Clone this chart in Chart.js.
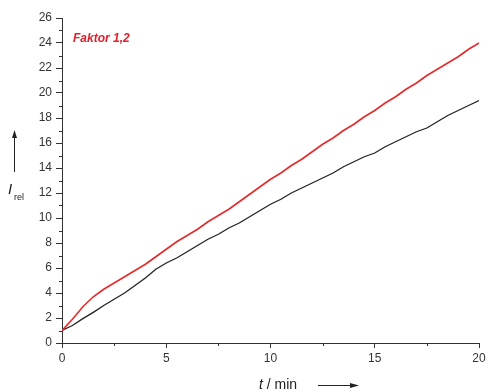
<!DOCTYPE html>
<html><head><meta charset="utf-8">
<script src="https://cdn.jsdelivr.net/npm/chart.js@4"></script>
<style>html,body{margin:0;padding:0;background:#fff;overflow:hidden}</style>
</head><body>
<canvas id="c" width="496" height="392"></canvas>
<script>
const times = [0,0.5,1,1.5,2,2.5,3,3.5,4,4.5,5,5.5,6,6.5,7,7.5,8,8.5,9,9.5,10,10.5,11,11.5,12,12.5,13,13.5,14,14.5,15,15.5,16,16.5,17,17.5,18,18.5,19,19.5,20];
const redSeries = [1.0,1.9,2.9,3.7,4.3,4.8,5.3,5.8,6.3,6.9,7.5,8.1,8.6,9.1,9.7,10.2,10.7,11.3,11.9,12.5,13.1,13.6,14.2,14.7,15.3,15.9,16.4,17.0,17.5,18.1,18.6,19.2,19.7,20.3,20.8,21.4,21.9,22.4,22.9,23.5,24.0];
const blackSeries = [1.0,1.4,1.95,2.45,3.0,3.5,4.0,4.6,5.2,5.9,6.4,6.8,7.3,7.8,8.3,8.7,9.2,9.6,10.1,10.6,11.1,11.5,12.0,12.4,12.8,13.2,13.6,14.1,14.5,14.9,15.2,15.7,16.1,16.5,16.9,17.2,17.7,18.2,18.6,19.0,19.4];
const yTicks = [0,2,4,6,8,10,12,14,16,18,20,22,24,26];
const yMinorTicks = [1,3,5,7,9,11,13,15,17,19,21,23,25];
const xTicks = [0,5,10,15,20];
const xMinorTicks = [2.5,7.5,12.5,17.5];
const seriesLabel = 'Faktor 1,2';
const yTitle = 'I';
const yTitleSub = 'rel';
const xTitleVar = 't';
const xTitleRest = ' / min';

const FONT = '"Liberation Sans", Arial, sans-serif';
const AX = '#333333';

const decor = {
  id: 'decor',
  afterDraw(chart) {
    const ctx = chart.ctx;
    const ca = chart.chartArea;
    const xs = chart.scales.x, ys = chart.scales.y;
    ctx.save();
    ctx.strokeStyle = AX; ctx.lineWidth = 1;
    ctx.beginPath();
    yMinorTicks.forEach(v => {
      const p = Math.round(ys.getPixelForValue(v)) + 0.5;
      ctx.moveTo(ca.left - 3, p); ctx.lineTo(ca.left, p);
    });
    xMinorTicks.forEach(v => {
      const p = Math.round(xs.getPixelForValue(v)) + 0.5;
      ctx.moveTo(p, ca.bottom); ctx.lineTo(p, ca.bottom + 3);
    });
    ctx.stroke();

    // series label
    ctx.fillStyle = '#e0202a';
    ctx.font = 'italic bold 12px ' + FONT;
    ctx.textBaseline = 'middle'; ctx.textAlign = 'left';
    ctx.fillText(seriesLabel, 73, 39);

    // y title
    ctx.fillStyle = '#222';
    ctx.font = 'italic 15px ' + FONT;
    ctx.fillText(yTitle, 8, 190);
    ctx.font = '9px ' + FONT;
    ctx.fillText(yTitleSub, 14, 198);
    // y arrow
    ctx.strokeStyle = '#222'; ctx.lineWidth = 1;
    ctx.beginPath(); ctx.moveTo(14.5, 172); ctx.lineTo(14.5, 136); ctx.stroke();
    ctx.beginPath(); ctx.moveTo(14.5, 130); ctx.lineTo(12, 138); ctx.lineTo(17, 138); ctx.closePath(); ctx.fill();

    // x title
    ctx.font = 'italic 14px ' + FONT;
    ctx.textBaseline = 'alphabetic';
    ctx.fillText(xTitleVar, 259, 389);
    const w = ctx.measureText(xTitleVar).width;
    ctx.font = '14px ' + FONT;
    ctx.fillText(xTitleRest, 259 + w, 389);
    ctx.beginPath(); ctx.moveTo(318, 385.5); ctx.lineTo(352, 385.5); ctx.stroke();
    ctx.beginPath(); ctx.moveTo(359, 385.5); ctx.lineTo(350, 383); ctx.lineTo(350, 388); ctx.closePath(); ctx.fill();
    ctx.restore();
  }
};

new Chart(document.getElementById('c'), {
  type: 'line',
  data: {
    datasets: [
      { label: seriesLabel, data: times.map((t,i)=>({x:t,y:redSeries[i]})), borderColor: '#e62a2a', borderWidth: 1.6, pointRadius: 0, tension: 0, fill: false },
      { label: 'ref', data: times.map((t,i)=>({x:t,y:blackSeries[i]})), borderColor: '#222222', borderWidth: 1.3, pointRadius: 0, tension: 0, fill: false }
    ]
  },
  options: {
    responsive: false,
    animation: false,
    layout: { padding: { top: 18, right: 17, left: 0, bottom: 0 } },
    plugins: { legend: { display: false }, tooltip: { enabled: false } },
    scales: {
      x: {
        type: 'linear', min: 0, max: 20,
        afterBuildTicks: s => { s.ticks = xTicks.map(v => ({ value: v })); },
        afterFit: s => { s.height = 49; },
        ticks: { color: AX, font: { family: FONT, size: 12 }, padding: 3, maxRotation: 0 },
        grid: { drawOnChartArea: false, drawTicks: true, tickLength: 5, color: AX },
        border: { display: true, color: AX, width: 1 }
      },
      y: {
        type: 'linear', min: 0, max: 26,
        afterBuildTicks: s => { s.ticks = yTicks.map(v => ({ value: v })); },
        afterFit: s => { s.width = 62; },
        ticks: { color: AX, font: { family: FONT, size: 12 }, padding: 4 },
        grid: { drawOnChartArea: false, drawTicks: true, tickLength: 6, color: AX },
        border: { display: true, color: AX, width: 1 }
      }
    }
  },
  plugins: [decor]
});
</script>
</body></html>
